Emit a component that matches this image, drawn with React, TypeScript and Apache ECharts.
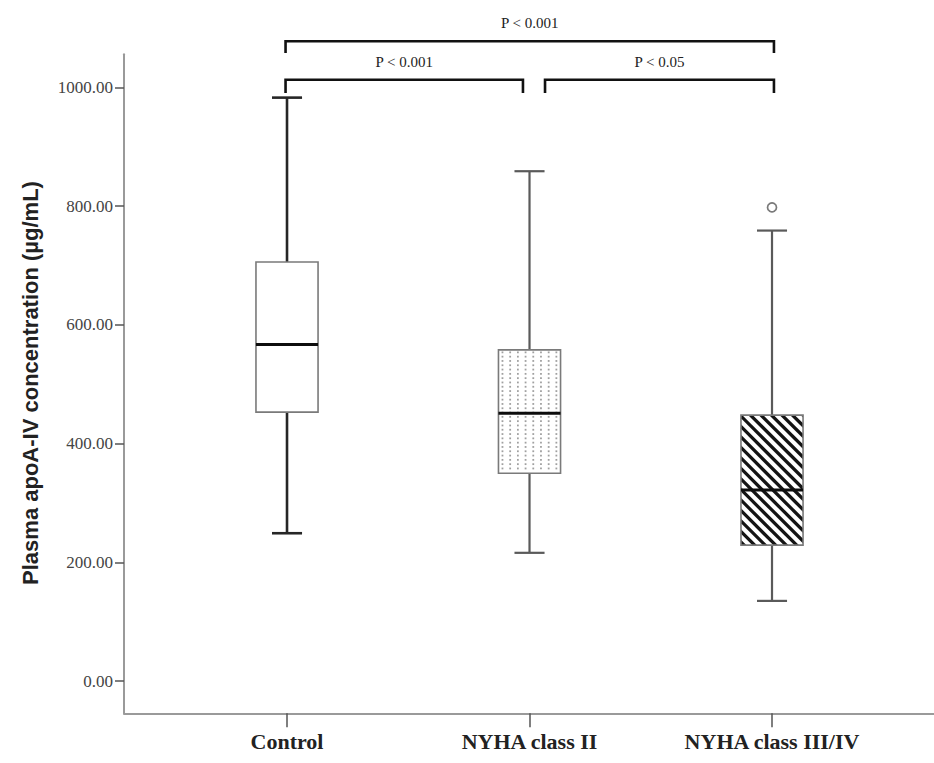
import React, { useEffect, useRef } from "react";
import * as echarts from "echarts";

// ---- data ----
const categories = ["Control", "NYHA class II", "NYHA class III/IV"];
const groupPos = [1, 2, 3];
const whiskerLow = [249, 216, 135];
const q1 = [453, 350, 229];
const median = [567, 451, 322];
const q3 = [706, 558, 448];
const whiskerHigh = [983, 859, 759];
const fillKinds = ["none", "dots", "hatch"];
const outliers = [[3, 798]];
const yTicks = [0, 200, 400, 600, 800, 1000];

// significance brackets (x in group units, y in µg/mL)
const bracketStart = [0.994, 0.994, 2.064];
const bracketEnd = [3.008, 1.973, 3.008];
const bracketLevel = [1078, 1013, 1013];
const bracketDrop = [20, 22, 22];
const bracketLabels = ["P < 0.001", "P < 0.001", "P < 0.05"];

// ---- styles ----
const whiskerColor = ["#262626", "#5a5a5a", "#5a5a5a"];
const whiskerWidth = [2.6, 2.2, 2.2];
const BOX_W = 0.256; // in group units
const CAP_W = 0.124;

function clipHalf(poly: number[][], f: (p: number[]) => number) {
  const out: number[][] = [];
  for (let i = 0; i < poly.length; i++) {
    const a = poly[i];
    const b = poly[(i + 1) % poly.length];
    const fa = f(a);
    const fb = f(b);
    if (fa >= 0) out.push(a);
    if (fa >= 0 !== fb >= 0) {
      const t = fa / (fa - fb);
      out.push([a[0] + t * (b[0] - a[0]), a[1] + t * (b[1] - a[1])]);
    }
  }
  return out;
}

export default function App() {
  const ref = useRef<HTMLDivElement>(null);
  useEffect(() => {
    if (!ref.current) return;
    const chart = echarts.init(ref.current, undefined, { renderer: "svg" });

    const boxData = groupPos.map((x, i) => [
      x,
      whiskerLow[i],
      q1[i],
      median[i],
      q3[i],
      whiskerHigh[i],
    ]);
    const bracketData = bracketStart.map((s, i) => [
      s,
      bracketEnd[i],
      bracketLevel[i],
      bracketDrop[i],
    ]);

    const option: any = {
      animation: false,
      backgroundColor: "#ffffff",
      grid: { left: 124, right: 0, top: 54.3, bottom: 49.7, containLabel: false },
      xAxis: {
        type: "value",
        min: 0.3278,
        max: 3.668,
        splitLine: { show: false },
        axisLine: { show: true, onZero: false, lineStyle: { color: "#9a9a9a", width: 2 } },
        axisTick: {
          show: true,
          customValues: groupPos,
          length: 14,
          lineStyle: { color: "#555", width: 1.5 },
        },
        axisLabel: {
          customValues: groupPos,
          formatter: (v: number) => categories[Math.round(v) - 1] ?? "",
          fontFamily: "Liberation Serif",
          fontWeight: "bold",
          fontSize: 22,
          color: "#222",
          margin: 17,
        },
      },
      yAxis: {
        type: "value",
        min: -54.4,
        max: 1056,
        splitLine: { show: false },
        axisLine: { show: true, onZero: false, lineStyle: { color: "#9a9a9a", width: 2 } },
        axisTick: {
          show: true,
          customValues: yTicks,
          length: 9,
          lineStyle: { color: "#555", width: 1.5 },
        },
        axisLabel: {
          customValues: yTicks,
          formatter: (v: number) => v.toFixed(2),
          fontFamily: "Liberation Serif",
          fontSize: 17,
          color: "#444",
          margin: 11,
        },
      },
      graphic: [
        {
          type: "text",
          x: 30,
          y: 383,
          rotation: Math.PI / 2,
          style: {
            text: "Plasma apoA-IV concentration (µg/mL)",
            fontFamily: "Liberation Sans",
            fontWeight: "bold",
            fontSize: 22,
            fill: "#222",
            align: "center",
            verticalAlign: "middle",
          },
        },
      ],
      series: [
        {
          type: "custom",
          data: boxData,
          encode: { x: 0, y: [1, 2, 3, 4, 5] },
          renderItem: (params: any, api: any) => {
            const i = params.dataIndex;
            const x = api.value(0);
            const lo = api.coord([x, api.value(1)]);
            const b1 = api.coord([x, api.value(2)]);
            const md = api.coord([x, api.value(3)]);
            const b3 = api.coord([x, api.value(4)]);
            const hi = api.coord([x, api.value(5)]);
            const bw = api.size([BOX_W, 0])[0];
            const cw = api.size([CAP_W, 0])[0];
            const cx = lo[0];
            const L = cx - bw / 2;
            const R = cx + bw / 2;
            const T = b3[1];
            const B = b1[1];
            const wStyle = { stroke: whiskerColor[i], lineWidth: whiskerWidth[i] };
            const children: any[] = [];
            // whiskers
            children.push({ type: "line", shape: { x1: cx, y1: hi[1], x2: cx, y2: T }, style: wStyle });
            children.push({ type: "line", shape: { x1: cx, y1: B, x2: cx, y2: lo[1] }, style: wStyle });
            children.push({ type: "line", shape: { x1: cx - cw / 2, y1: hi[1], x2: cx + cw / 2, y2: hi[1] }, style: wStyle });
            children.push({ type: "line", shape: { x1: cx - cw / 2, y1: lo[1], x2: cx + cw / 2, y2: lo[1] }, style: wStyle });
            // box background
            children.push({ type: "rect", shape: { x: L, y: T, width: bw, height: B - T }, style: { fill: "#ffffff" } });
            const kind = fillKinds[i];
            if (kind === "dots") {
              for (let yy = T + 2.5; yy < B - 1.5; yy += 4.3) {
                for (let xx = L + 4; xx < R - 1.5; xx += 7.7) {
                  children.push({
                    type: "rect",
                    shape: { x: xx - 0.9, y: yy - 0.9, width: 1.8, height: 1.8 },
                    style: { fill: "#a0a0a0" },
                  });
                }
              }
            } else if (kind === "hatch") {
              const period = 10.5;
              const half = 2.3;
              const rectPoly = [
                [L, T],
                [R, T],
                [R, B],
                [L, B],
              ];
              for (let c = T - R - period; c < B - L + period; c += period) {
                let poly = clipHalf(rectPoly, (p) => p[1] - p[0] - (c - half));
                poly = clipHalf(poly, (p) => c + half - (p[1] - p[0]));
                if (poly.length >= 3) {
                  children.push({ type: "polygon", shape: { points: poly }, style: { fill: "#141414" } });
                }
              }
            }
            // box outline
            children.push({
              type: "rect",
              shape: { x: L, y: T, width: bw, height: B - T },
              style: { fill: "none", stroke: "#7a7a7a", lineWidth: 1.6 },
            });
            // median
            children.push({
              type: "line",
              shape: { x1: L, y1: md[1], x2: R, y2: md[1] },
              style: { stroke: "#0d0d0d", lineWidth: 3 },
            });
            return { type: "group", children };
          },
          z: 2,
        },
        {
          type: "scatter",
          data: outliers,
          symbol: "circle",
          symbolSize: 9,
          itemStyle: { color: "#ffffff", borderColor: "#7a7a7a", borderWidth: 1.7, opacity: 1 },
          z: 3,
        },
        {
          type: "custom",
          data: bracketData,
          clip: false,
          encode: { x: [0, 1], y: 2 },
          renderItem: (params: any, api: any) => {
            const i = params.dataIndex;
            const s = api.coord([api.value(0), api.value(2)]);
            const e = api.coord([api.value(1), api.value(2)]);
            const d = api.coord([api.value(0), api.value(2) - api.value(3)]);
            const st = { stroke: "#111", lineWidth: 2.6, fill: "none" };
            return {
              type: "group",
              children: [
                {
                  type: "polyline",
                  shape: {
                    points: [
                      [s[0], d[1]],
                      [s[0], s[1]],
                      [e[0], e[1]],
                      [e[0], d[1]],
                    ],
                  },
                  style: st,
                },
                {
                  type: "text",
                  x: (s[0] + e[0]) / 2,
                  y: s[1] - 18,
                  style: {
                    text: bracketLabels[i],
                    fontFamily: "Liberation Serif",
                    fontSize: 15,
                    fill: "#222",
                    align: "center",
                    verticalAlign: "middle",
                  },
                },
              ],
            };
          },
          z: 4,
        },
      ],
    };
    chart.setOption(option);
    return () => chart.dispose();
  }, []);

  return (
    <div
      ref={ref}
      style={{ position: "fixed", left: 0, top: 0, width: 934, height: 763 }}
    />
  );
}
